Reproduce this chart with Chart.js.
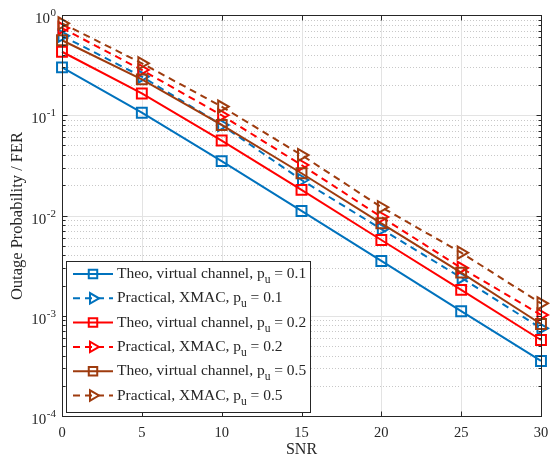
<!DOCTYPE html>
<html>
<head>
<meta charset="utf-8">
<script src="https://cdn.jsdelivr.net/npm/chart.js@4.4.1/dist/chart.umd.min.js"></script>
<style>
  html, body { margin: 0; padding: 0; background: #fff; }
  #wrap { width: 550px; height: 460px; }
</style>
</head>
<body>
<div id="wrap"><canvas id="c" width="550" height="460"></canvas></div>
<script>
// SNR sweep and outage / frame-error values per scheme
const snr = [0, 5, 10, 15, 20, 25, 30];
const theoP01 = [0.30, 0.106, 0.0349, 0.0111, 0.00352, 0.00111, 0.000354];
const pracP01 = [0.62, 0.243, 0.080, 0.0226, 0.00733, 0.0024, 0.00075];
const theoP02 = [0.43, 0.165, 0.0559, 0.0180, 0.0057, 0.00181, 0.000573];
const pracP02 = [0.74, 0.283, 0.100, 0.0319, 0.00966, 0.0030, 0.00102];
const theoP05 = [0.56, 0.228, 0.080, 0.0264, 0.00836, 0.00269, 0.000828];
const pracP05 = [0.826, 0.33, 0.122, 0.0401, 0.0121, 0.00426, 0.00133];

const xTicks = [0, 5, 10, 15, 20, 25, 30];
const yTickExps = [0, -1, -2, -3, -4];
const xTitle = 'SNR';
const yTitle = 'Outage Probability / FER';

const BLUE = '#0072BD', RED = '#FF0000', BROWN = '#9E3B0E';
const SERIF = '"Liberation Serif", "DejaVu Serif", serif';
const INK = '#262626';

const series = [
  { label: 'Theo, virtual channel, p', pu: '0.1', data: theoP01, color: BLUE,  dashed: false },
  { label: 'Practical, XMAC, p',       pu: '0.1', data: pracP01, color: BLUE,  dashed: true },
  { label: 'Theo, virtual channel, p', pu: '0.2', data: theoP02, color: RED,   dashed: false },
  { label: 'Practical, XMAC, p',       pu: '0.2', data: pracP02, color: RED,   dashed: true },
  { label: 'Theo, virtual channel, p', pu: '0.5', data: theoP05, color: BROWN, dashed: false },
  { label: 'Practical, XMAC, p',       pu: '0.5', data: pracP05, color: BROWN, dashed: true }
];

const DASH = [7, 5];

function markerOpts(s) {
  return s.dashed
    ? { pointStyle: 'triangle', radius: 7, rotation: 90 }
    : { pointStyle: 'rect', radius: 7, rotation: 0 };
}

const datasets = series.map((s, i) => {
  const m = markerOpts(s);
  return {
    label: s.label + 'u = ' + s.pu,
    data: snr.map((x, k) => ({ x: x, y: s.data[k] })),
    borderColor: s.color,
    borderWidth: 2,
    borderDash: s.dashed ? DASH : [],
    pointStyle: m.pointStyle,
    pointRadius: m.radius,
    pointRotation: m.rotation,
    pointBorderWidth: 2,
    pointBorderColor: s.color,
    pointBackgroundColor: 'rgba(0,0,0,0)',
    fill: false,
    tension: 0,
    clip: false,
    order: series.length - i
  };
});

// grid lines drawn under the series
const gridPlugin = {
  id: 'matlabGrid',
  beforeDatasetsDraw(chart) {
    const { ctx, chartArea: a, scales: { x, y } } = chart;
    ctx.save();
    ctx.lineWidth = 1;
    // minor log grid (dotted)
    ctx.strokeStyle = '#c8c8c8';
    ctx.setLineDash([1, 2]);
    for (let e = -4; e < 0; e++) {
      for (let m = 2; m <= 9; m++) {
        const py = Math.round(y.getPixelForValue(m * Math.pow(10, e))) + 0.5;
        ctx.beginPath(); ctx.moveTo(a.left, py); ctx.lineTo(a.right, py); ctx.stroke();
      }
    }
    // major grid (solid)
    ctx.setLineDash([]);
    ctx.strokeStyle = '#e3e3e3';
    yTickExps.forEach(e => {
      const py = Math.round(y.getPixelForValue(Math.pow(10, e))) + 0.5;
      ctx.beginPath(); ctx.moveTo(a.left, py); ctx.lineTo(a.right, py); ctx.stroke();
    });
    xTicks.forEach(v => {
      const px = Math.round(x.getPixelForValue(v)) + 0.5;
      ctx.beginPath(); ctx.moveTo(px, a.top); ctx.lineTo(px, a.bottom); ctx.stroke();
    });
    ctx.restore();
  }
};

// axes box, inward ticks, tick labels, titles and legend
const framePlugin = {
  id: 'matlabFrame',
  afterDraw(chart) {
    const { ctx, chartArea: a, scales: { x, y } } = chart;
    ctx.save();
    ctx.strokeStyle = INK;
    ctx.lineWidth = 1;
    ctx.setLineDash([]);
    const L = Math.round(a.left) + 0.5, R = Math.round(a.right) + 0.5;
    const T = Math.round(a.top) + 0.5, B = Math.round(a.bottom) + 0.5;
    ctx.strokeRect(L, T, R - L, B - T);

    // x ticks (bottom and top)
    xTicks.forEach(v => {
      const px = Math.round(x.getPixelForValue(v)) + 0.5;
      ctx.beginPath();
      ctx.moveTo(px, B); ctx.lineTo(px, B - 5);
      ctx.moveTo(px, T); ctx.lineTo(px, T + 5);
      ctx.stroke();
    });
    // y ticks (left and right), major + minor
    for (let e = -4; e <= 0; e++) {
      const py = Math.round(y.getPixelForValue(Math.pow(10, e))) + 0.5;
      ctx.beginPath();
      ctx.moveTo(L, py); ctx.lineTo(L + 5, py);
      ctx.moveTo(R, py); ctx.lineTo(R - 5, py);
      ctx.stroke();
      if (e < 0) {
        for (let m = 2; m <= 9; m++) {
          const qy = Math.round(y.getPixelForValue(m * Math.pow(10, e))) + 0.5;
          ctx.beginPath();
          ctx.moveTo(L, qy); ctx.lineTo(L + 3, qy);
          ctx.moveTo(R, qy); ctx.lineTo(R - 3, qy);
          ctx.stroke();
        }
      }
    }

    ctx.fillStyle = INK;
    // x tick labels
    ctx.font = '14.5px ' + SERIF;
    ctx.textAlign = 'center';
    ctx.textBaseline = 'middle';
    xTicks.forEach(v => {
      ctx.fillText(String(v), x.getPixelForValue(v), a.bottom + 17);
    });
    // y tick labels as 10^e
    yTickExps.forEach(e => {
      const py = y.getPixelForValue(Math.pow(10, e));
      const sup = e === 0 ? '0' : '-' + Math.abs(e);
      ctx.font = '11px ' + SERIF;
      const supW = ctx.measureText(sup).width;
      const rightEdge = a.left - 6;
      ctx.textAlign = 'left';
      ctx.textBaseline = 'alphabetic';
      ctx.fillText(sup, rightEdge - supW, py + 1);
      ctx.font = '15px ' + SERIF;
      ctx.textAlign = 'right';
      ctx.fillText('10', rightEdge - supW - 0.5, py + 8);
    });
    // axis titles
    ctx.font = '16px ' + SERIF;
    ctx.textAlign = 'center';
    ctx.textBaseline = 'middle';
    ctx.fillText(xTitle, (a.left + a.right) / 2, a.bottom + 34);
    ctx.save();
    ctx.translate(18, 216);
    ctx.rotate(-Math.PI / 2);
    ctx.font = '16.5px ' + SERIF;
    ctx.fillText(yTitle, 0, 0);
    ctx.restore();

    // legend
    const box = { left: 66.5, top: 261.5, right: 310.5, bottom: 412.5 };
    ctx.fillStyle = '#fff';
    ctx.fillRect(box.left, box.top, box.right - box.left, box.bottom - box.top);
    ctx.strokeStyle = INK;
    ctx.lineWidth = 1;
    ctx.strokeRect(box.left, box.top, box.right - box.left, box.bottom - box.top);
    const rowH = 24.3, firstRow = 274;
    series.forEach((s, i) => {
      const cy = firstRow + i * rowH;
      ctx.save();
      ctx.strokeStyle = s.color;
      ctx.fillStyle = 'rgba(0,0,0,0)';
      ctx.lineWidth = 2;
      ctx.setLineDash(s.dashed ? DASH : []);
      ctx.beginPath(); ctx.moveTo(73, cy); ctx.lineTo(113, cy); ctx.stroke();
      ctx.setLineDash([]);
      const m = markerOpts(s);
      Chart.helpers.drawPoint(ctx, {
        pointStyle: m.pointStyle, radius: 6, rotation: m.rotation, borderWidth: 2
      }, 93, cy);
      ctx.restore();
      // label with subscript u
      ctx.fillStyle = INK;
      ctx.font = '15.5px ' + SERIF;
      ctx.textAlign = 'left';
      ctx.textBaseline = 'middle';
      const main = s.label;
      ctx.fillText(main, 117, cy);
      let xx = 117 + ctx.measureText(main).width;
      ctx.font = '11.5px ' + SERIF;
      ctx.fillText('u', xx, cy + 6);
      xx += ctx.measureText('u').width;
      ctx.font = '15.5px ' + SERIF;
      ctx.fillText(' = ' + s.pu, xx, cy);
    });
    ctx.restore();
  }
};

new Chart(document.getElementById('c'), {
  type: 'line',
  data: { datasets: datasets },
  options: {
    responsive: false,
    animation: false,
    devicePixelRatio: 1,
    layout: { padding: { top: 15, right: 7, left: 0, bottom: 0 } },
    plugins: { legend: { display: false }, tooltip: { enabled: false } },
    scales: {
      x: {
        type: 'linear', min: 0, max: 30,
        ticks: { display: false, stepSize: 5 },
        grid: { display: false },
        border: { display: false },
        afterFit(s) { s.height = 44; }
      },
      y: {
        type: 'logarithmic', min: 1e-4, max: 1,
        ticks: { display: false },
        grid: { display: false },
        border: { display: false },
        afterFit(s) { s.width = 62; }
      }
    }
  },
  plugins: [gridPlugin, framePlugin]
});
</script>
</body>
</html>
